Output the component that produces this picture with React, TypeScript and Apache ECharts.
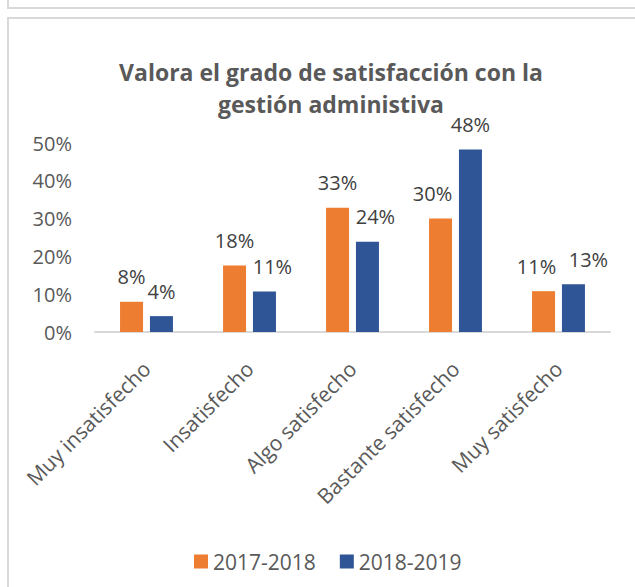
import React, { useEffect, useRef } from "react";
import * as echarts from "echarts";

const categories = ["Muy insatisfecho", "Insatisfecho", "Algo satisfecho", "Bastante satisfecho", "Muy satisfecho"];
const series1Name = "2017-2018";
const series2Name = "2018-2019";
const series1 = [0.08, 0.176, 0.329, 0.3, 0.108];
const series2 = [0.042, 0.107, 0.239, 0.483, 0.126];
const titleLines = ["Valora el grado de satisfacción con la", "gestión administiva"];

const FONT = "'Open Sans', sans-serif";
const GREY = "#595959";

export default function App() {
  const ref = useRef<HTMLDivElement>(null);
  useEffect(() => {
    if (!ref.current) return;
    const chart = echarts.init(ref.current, null, { renderer: "svg" });
    const pct = (v: number) => Math.round(v * 100) + "%";
    // horizontal nudges of the data labels (as placed in the original)
    const shift1 = [0, 0, 0, -8, -7];
    const shift2 = [0, 8, 8, 0, 15];
    const labelBase = { show: true, position: "top", distance: 15, fontSize: 20, color: "#404040", fontFamily: FONT, formatter: (p: any) => pct(p.value) };
    const build = (vals: number[], shifts: number[]) =>
      vals.map((v, i) => ({ value: v, label: { offset: [shifts[i], 0] } }));
    chart.setOption({
      animation: false,
      backgroundColor: "#ffffff",
      textStyle: { fontFamily: FONT },
      graphic: [
        { type: "rect", shape: { x: 8, y: -100, width: 700, height: 108 }, style: { fill: "none", stroke: "#D9D9D9", lineWidth: 2 }, silent: true },
        { type: "rect", shape: { x: 8, y: 18, width: 700, height: 700 }, style: { fill: "none", stroke: "#D9D9D9", lineWidth: 2 }, silent: true },
        {
          type: "text",
          x: 331,
          y: 72,
          style: { text: titleLines[0], fill: GREY, font: "bold 23px 'Open Sans', sans-serif", textAlign: "center", textVerticalAlign: "middle" },
        },
        {
          type: "text",
          x: 331,
          y: 104,
          style: { text: titleLines[1], fill: GREY, font: "bold 23px 'Open Sans', sans-serif", textAlign: "center", textVerticalAlign: "middle" },
        },
      ],
      legend: {
        left: 189,
        top: 546,
        icon: "rect",
        itemWidth: 14,
        itemHeight: 14,
        itemGap: 24,
        textStyle: { fontFamily: FONT, fontSize: 21, color: GREY },
        data: [series1Name, series2Name],
      },
      grid: { left: 95, right: 25, top: 143, bottom: 255, containLabel: false },
      xAxis: {
        type: "category",
        data: categories,
        axisLine: { lineStyle: { color: "#D9D9D9", width: 2 } },
        axisTick: { show: false },
        axisLabel: { rotate: 45, fontSize: 21, color: GREY, fontFamily: FONT, margin: 33, interval: 0 },
      },
      yAxis: {
        type: "value",
        min: 0,
        max: 0.5,
        interval: 0.1,
        splitLine: { show: false },
        axisLine: { show: false },
        axisTick: { show: false },
        axisLabel: { fontSize: 20, color: GREY, fontFamily: FONT, margin: 23, formatter: (v: number) => pct(v) },
      },
      series: [
        {
          name: series1Name,
          type: "bar",
          data: build(series1, shift1),
          barWidth: 23,
          barGap: "30%",
          itemStyle: { color: "#ED7D31" },
          label: labelBase,
        },
        {
          name: series2Name,
          type: "bar",
          data: build(series2, shift2),
          barWidth: 23,
          barGap: "30%",
          itemStyle: { color: "#2F5597" },
          label: labelBase,
        },
      ],
    });
    return () => chart.dispose();
  }, []);
  return <div ref={ref} style={{ position: "fixed", left: 0, top: 0, width: 635, height: 587 }} />;
}
